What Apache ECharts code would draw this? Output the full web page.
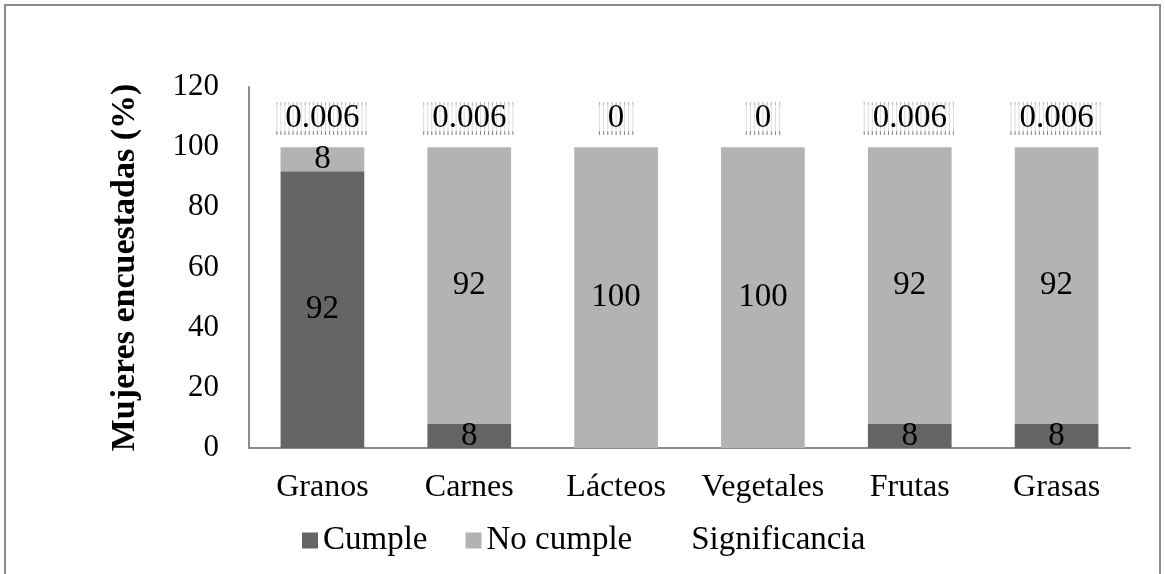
<!DOCTYPE html>
<html>
<head>
<meta charset="utf-8">
<script src="https://cdn.jsdelivr.net/npm/echarts@6/dist/echarts.min.js"></script>
<style>
html,body{margin:0;padding:0;background:#fff;}
#wrap{position:absolute;left:4px;top:4px;width:1157px;height:620px;border:2px solid #8c8c8c;box-sizing:border-box;}
#chart{position:absolute;left:0;top:0;width:1165px;height:574px;}
</style>
</head>
<body>
<div id="wrap"></div>
<div id="chart"></div>
<script>
const categories = ['Granos', 'Carnes', 'Lácteos', 'Vegetales', 'Frutas', 'Grasas'];
const cumple = [92, 8, 0, 0, 8, 8];
const noCumple = [8, 92, 100, 100, 92, 92];
const significancia = [0.006, 0.006, 0, 0, 0.006, 0.006];
const yTicks = [0, 20, 40, 60, 80, 100, 120];

const FONT = '"Liberation Serif", "Times New Roman", serif';

function hatch(w, h) {
  const c = document.createElement('canvas');
  c.width = w; c.height = h;
  const ctx = c.getContext('2d');
  for (let x = 1; x < w; x += 4) {
    ctx.fillStyle = 'rgba(170,170,170,0.4)';
    ctx.fillRect(x, 0, 1, h);
    ctx.fillStyle = 'rgba(90,90,90,0.7)';
    ctx.fillRect(x, h - 4, 1, 4);
    ctx.fillStyle = 'rgba(140,140,140,0.5)';
    ctx.fillRect(x, 0, 1, 3);
  }
  return c;
}
const hatchWide = hatch(93, 33);
const hatchNarrow = hatch(35, 33);

const chart = echarts.init(document.getElementById('chart'), null, {renderer: 'canvas'});

const valueLabel = {
  show: true, position: 'inside', color: '#000',
  fontFamily: FONT, fontSize: 33,
  formatter: p => (p.value > 0 ? String(p.value) : '')
};

chart.setOption({
  animation: false,
  backgroundColor: 'transparent',
  grid: {left: 249, right: 35, top: 87, bottom: 126, containLabel: false},
  legend: {
    bottom: 12, left: 297,
    itemWidth: 16, itemHeight: 16, itemGap: 38,
    textStyle: {fontFamily: FONT, fontSize: 33, color: '#000'},
    data: [
      {name: 'Cumple', icon: 'rect'},
      {name: 'No cumple', icon: 'rect'},
      {name: 'Significancia', icon: 'rect', itemStyle: {color: 'rgba(0,0,0,0)'}}
    ]
  },
  xAxis: {
    type: 'category', data: categories,
    axisLine: {lineStyle: {color: '#8c8c8c', width: 2}},
    axisTick: {show: false},
    axisLabel: {fontFamily: FONT, fontSize: 32, color: '#000', margin: 24, interval: 0}
  },
  yAxis: {
    type: 'value', min: yTicks[0], max: yTicks[yTicks.length - 1], interval: 20,
    name: 'Mujeres encuestadas (%)', nameLocation: 'middle', nameGap: 107,
    nameTextStyle: {fontFamily: FONT, fontSize: 34, fontWeight: 'bold', color: '#000'},
    axisLine: {show: true, lineStyle: {color: '#8c8c8c', width: 2}},
    axisTick: {show: false},
    splitLine: {show: false},
    axisLabel: {fontFamily: FONT, fontSize: 31, color: '#000', margin: 30}
  },
  series: [
    {
      name: 'Cumple', type: 'bar', stack: 'a', barWidth: '57%',
      itemStyle: {color: '#656565'},
      label: valueLabel,
      data: cumple
    },
    {
      name: 'No cumple', type: 'bar', stack: 'a',
      itemStyle: {color: '#b3b3b3'},
      label: valueLabel,
      data: noCumple
    },
    {
      name: 'Significancia', type: 'bar', stack: 'a',
      itemStyle: {color: 'rgba(0,0,0,0)'},
      data: significancia.map(v => ({
        value: v,
        label: {
          show: true, position: 'top', distance: 12,
          fontFamily: FONT, fontSize: 33, color: '#000',
          lineHeight: 31, padding: [1, 10, 1, 10],
          backgroundColor: {image: String(v).length > 1 ? hatchWide : hatchNarrow},
          formatter: p => String(p.value)
        }
      }))
    }
  ]
});
</script>
</body>
</html>
